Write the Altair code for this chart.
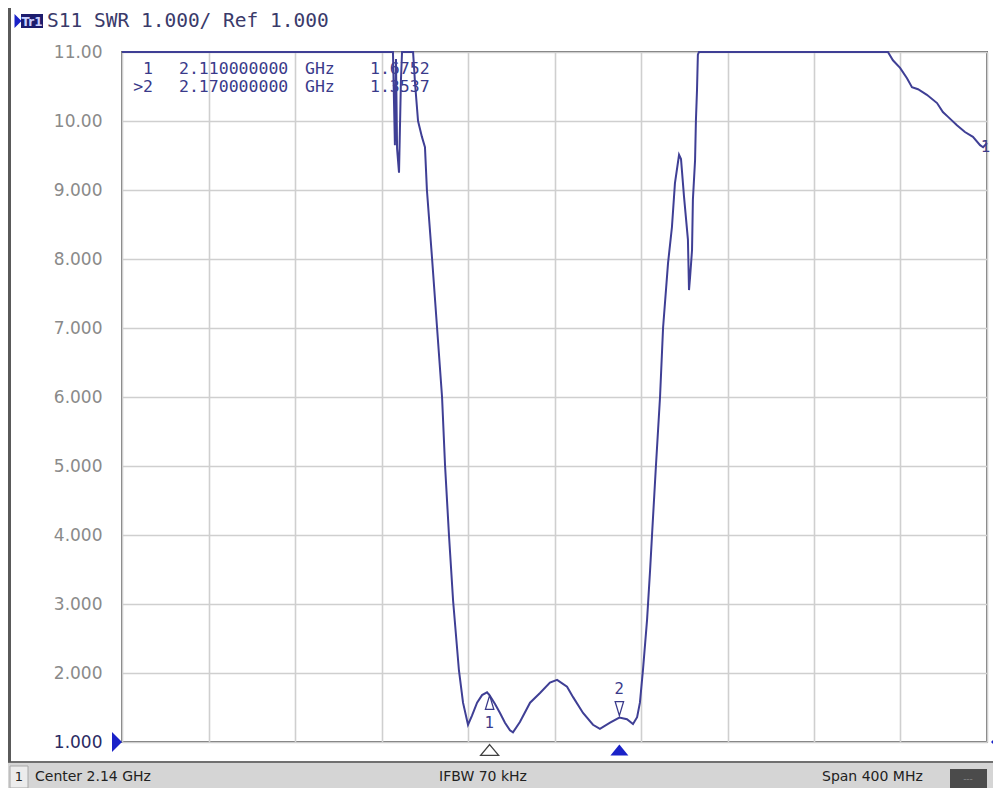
import altair as alt
import pandas as pd

# ---------------- data ----------------
freq_ghz = [
    1.9400, 2.0649, 2.0653, 2.0662, 2.0667, 2.0672, 2.0681, 2.0690, 2.0695, 2.0746,
    2.0755, 2.0769, 2.0787, 2.0801, 2.0810, 2.0834, 2.0857, 2.0880, 2.0894, 2.0912,
    2.0931, 2.0958, 2.0977, 2.1000, 2.1018, 2.1042, 2.1065, 2.1088, 2.1100, 2.1125,
    2.1148, 2.1171, 2.1194, 2.1208, 2.1240, 2.1287, 2.1333, 2.1379, 2.1412, 2.1458,
    2.1486, 2.1532, 2.1578, 2.1610, 2.1657, 2.1700, 2.1735, 2.1763, 2.1782, 2.1795,
    2.1809, 2.1828, 2.1842, 2.1851, 2.1869, 2.1888, 2.1902, 2.1925, 2.1943, 2.1957,
    2.1976, 2.1985, 2.1999, 2.2017, 2.2022, 2.2027, 2.2036, 2.2040, 2.2050, 2.2054,
    2.2059, 2.2063, 2.2068, 2.2942, 2.2965, 2.2998, 2.3030, 2.3053, 2.3081, 2.3122,
    2.3169, 2.3196, 2.3220, 2.3261, 2.3298, 2.3335, 2.3368, 2.3382, 2.3400,
]
swr = [
    11.0, 11.0, 11.0, 9.65, 10.9, 9.60, 9.25, 10.6, 11.0, 11.0,
    10.55, 10.0, 9.77, 9.62, 9.0, 8.0, 7.0, 6.0, 5.0, 4.0,
    3.05, 2.04, 1.57, 1.25, 1.38, 1.57, 1.68, 1.72, 1.6752, 1.55,
    1.42, 1.28, 1.17, 1.14, 1.29, 1.57, 1.71, 1.86, 1.90, 1.80,
    1.65, 1.42, 1.25, 1.19, 1.28, 1.3537, 1.33, 1.26, 1.36, 1.57,
    2.04, 2.77, 3.49, 4.0, 5.0, 6.0, 7.0, 7.94, 8.46, 9.10,
    9.51, 9.45, 8.90, 8.28, 7.55, 7.74, 8.13, 8.86, 9.43, 10.01,
    10.45, 10.96, 11.0, 11.0, 10.88, 10.77, 10.62, 10.49, 10.46, 10.38,
    10.26, 10.13, 10.06, 9.94, 9.84, 9.77, 9.65, 9.62, 9.68,
]
assert len(freq_ghz) == len(swr)

marker_ids = ["1", "2"]
marker_freqs = [2.11, 2.17]
marker_vals = [1.6752, 1.3537]

x_grid = [1.94, 1.98, 2.02, 2.06, 2.10, 2.14, 2.18, 2.22, 2.26, 2.30, 2.34]
y_ticks = [1, 2, 3, 4, 5, 6, 7, 8, 9, 10, 11]

header_text = "S11 SWR 1.000/ Ref 1.000"
table_ids = ["1", ">2"]
table_freqs = ["2.110000000", "2.170000000"]
table_unit = "GHz"
table_vals = ["1.6752", "1.3537"]
status_left = "Center 2.14 GHz"
status_mid = "IFBW 70 kHz"
status_right = "Span 400 MHz"

# ---------------- layout ----------------
W, H = 865, 690
PL, PT = 114, 44
OX, OY = 8 + PL, 8 + PT  # page position of plot origin


def rx(px):
    return px - OX


def ry(py):
    return py - OY


TRACE = "#3f3f95"
MK = "#3a3a8a"
BLUE = "#1a22c8"

df = pd.DataFrame({"f": freq_ghz, "swr": swr})
mk = pd.DataFrame({"id": marker_ids, "f": marker_freqs, "swr": marker_vals})

xs = alt.Scale(domain=[1.94, 2.34], nice=False, zero=False)
ys = alt.Scale(domain=[1, 11], nice=False, zero=False)

x_enc = alt.X("f:Q", scale=xs, title=None,
              axis=alt.Axis(values=x_grid, labels=False, ticks=False, domain=False,
                            grid=True, gridColor="#cfcfcf", gridWidth=1.6))
y_enc = alt.Y("swr:Q", scale=ys, title=None,
              axis=alt.Axis(values=y_ticks, ticks=False, domain=False, grid=True,
                            gridColor="#cfcfcf", gridWidth=1.6,
                            labelExpr="datum.value >= 10 ? format(datum.value, '.2f') : format(datum.value, '.3f')",
                            labelFont="DejaVu Sans", labelFontSize=17,
                            labelColor={"condition": {"test": "datum.value == 1", "value": "#2b2b63"},
                                        "value": "#8a8a8a"},
                            labelPadding=20, labelFlush=False, labelOverlap=False))

one = pd.DataFrame({"d": [0]})

# status bar & frame decorations
status_bg = alt.Chart(one).mark_rect(color="#d5d5d5").encode(
    x=alt.value(rx(8)), x2=alt.value(rx(993)), y=alt.value(ry(763)), y2=alt.value(ry(788)))
status_box1 = alt.Chart(one).mark_rect(color="#ececec", stroke="#a8a8a8", strokeWidth=1).encode(
    x=alt.value(rx(10)), x2=alt.value(rx(28)), y=alt.value(ry(766)), y2=alt.value(ry(788)))
status_box2 = alt.Chart(one).mark_rect(color="#4b4b4b").encode(
    x=alt.value(rx(950)), x2=alt.value(rx(987)), y=alt.value(ry(769)), y2=alt.value(ry(789)))
bottom_line = alt.Chart(one).mark_rule(color="#707070", strokeWidth=2).encode(
    x=alt.value(rx(8)), x2=alt.value(rx(993)), y=alt.value(ry(762)))
left_line = alt.Chart(one).mark_rule(color="#5a5a5a", strokeWidth=3).encode(
    x=alt.value(rx(9.5)), y=alt.value(ry(8)), y2=alt.value(ry(762)))

tr_box = alt.Chart(one).mark_rect(color="#1c1c6e").encode(
    x=alt.value(rx(21)), x2=alt.value(rx(43)), y=alt.value(ry(14)), y2=alt.value(ry(28)))
tr_tri = alt.Chart(one).mark_point(shape="M-0.5,-1L0.5,0L-0.5,1Z", filled=True, color=BLUE,
                                   size=196, opacity=1).encode(
    x=alt.value(rx(18)), y=alt.value(ry(21)))


def txt(s, px, py, size=14, color="#222222", align="left", font="DejaVu Sans", weight="normal"):
    return alt.Chart(pd.DataFrame({"t": [s]})).mark_text(
        align=align, baseline="middle", fontSize=size, font=font, color=color,
        fontWeight=weight).encode(x=alt.value(rx(px)), y=alt.value(ry(py)), text="t:N")


MONO = "DejaVu Sans Mono"
texts = [
    txt("Tr1", 32, 21.5, size=12, color="#c8d0ff", align="center", weight="bold"),
    txt(header_text, 47, 21, size=19.5, color="#3a3a6a", font=MONO),
    txt("1", 981, 147, size=15, color=MK),
    txt("1", 19, 777, size=13, color="#222222", align="center"),
    txt(status_left, 35, 777, size=14),
    txt(status_mid, 483, 777, size=14, align="center"),
    txt(status_right, 822, 777, size=14),
    txt("---", 968, 779, size=9, color="#8a8a8a", align="center"),
]
for i, yy in enumerate([69, 87]):
    texts += [
        txt(table_ids[i], 153, yy, size=16.5, color=MK, font=MONO, align="right"),
        txt(table_freqs[i], 179, yy, size=16.5, color=MK, font=MONO),
        txt(table_unit, 305, yy, size=16.5, color=MK, font=MONO),
        txt(table_vals[i], 370, yy, size=16.5, color=MK, font=MONO),
    ]

ref_left = alt.Chart(one).mark_point(shape="M-0.5,-1L0.5,0L-0.5,1Z", filled=True, color=BLUE,
                                     size=400, opacity=1).encode(
    x=alt.value(rx(117)), y=alt.value(ry(742)))
ref_right = alt.Chart(one).mark_point(shape="M0.5,-1L-0.5,0L0.5,1Z", filled=True, color=BLUE,
                                      size=400, opacity=1).encode(
    x=alt.value(rx(996)), y=alt.value(ry(742)))

base_mk = alt.Chart(mk).encode(x=alt.X("f:Q", scale=xs), y=alt.Y("swr:Q", scale=ys))

# markers on the trace
mk1 = base_mk.transform_filter("datum.id == '1'")
mk2 = base_mk.transform_filter("datum.id == '2'")
mk1_sym = mk1.mark_point(shape="M0,-1L0.6,1L-0.6,1Z", filled=False, color=MK, strokeWidth=1.3,
                         size=196, yOffset=7, opacity=1)
mk1_lbl = mk1.mark_text(fontSize=15, color=MK, yOffset=28, font="DejaVu Sans").encode(text="id:N")
mk2_sym = mk2.mark_point(shape="M-0.6,-1L0.6,-1L0,1Z", filled=False, color=MK, strokeWidth=1.3,
                         size=196, yOffset=-9, opacity=1)
mk2_lbl = mk2.mark_text(fontSize=15, color=MK, yOffset=-29, font="DejaVu Sans").encode(text="id:N")

# markers below the axis
axis_mk1 = alt.Chart(mk).transform_filter("datum.id == '1'").mark_point(
    shape="M0,-0.6L1,0.6L-1,0.6Z", filled=True, fill="white", stroke="#404040", strokeWidth=1.3,
    size=324, opacity=1).encode(x=alt.X("f:Q", scale=xs), y=alt.value(ry(750)))
axis_mk2 = alt.Chart(mk).transform_filter("datum.id == '2'").mark_point(
    shape="M0,-0.6L1,0.6L-1,0.6Z", filled=True, color=BLUE, size=324, opacity=1).encode(
    x=alt.X("f:Q", scale=xs), y=alt.value(ry(750)))

trace = alt.Chart(df).mark_line(color=TRACE, strokeWidth=2, interpolate="linear").encode(
    x=x_enc, y=y_enc)

chart = alt.layer(
    status_bg, status_box1, status_box2, bottom_line, left_line, tr_box, tr_tri,
    *texts, trace, ref_left, ref_right, mk1_sym, mk1_lbl, mk2_sym, mk2_lbl, axis_mk1, axis_mk2,
).properties(
    width=W, height=H,
    autosize=alt.AutoSizeParams(type="none"),
    padding={"left": PL, "top": PT, "right": 6, "bottom": 46},
    background="white",
).configure_view(stroke="#707070", strokeWidth=2)

chart.save("out.html", embed_options={"renderer": "svg", "actions": False})
